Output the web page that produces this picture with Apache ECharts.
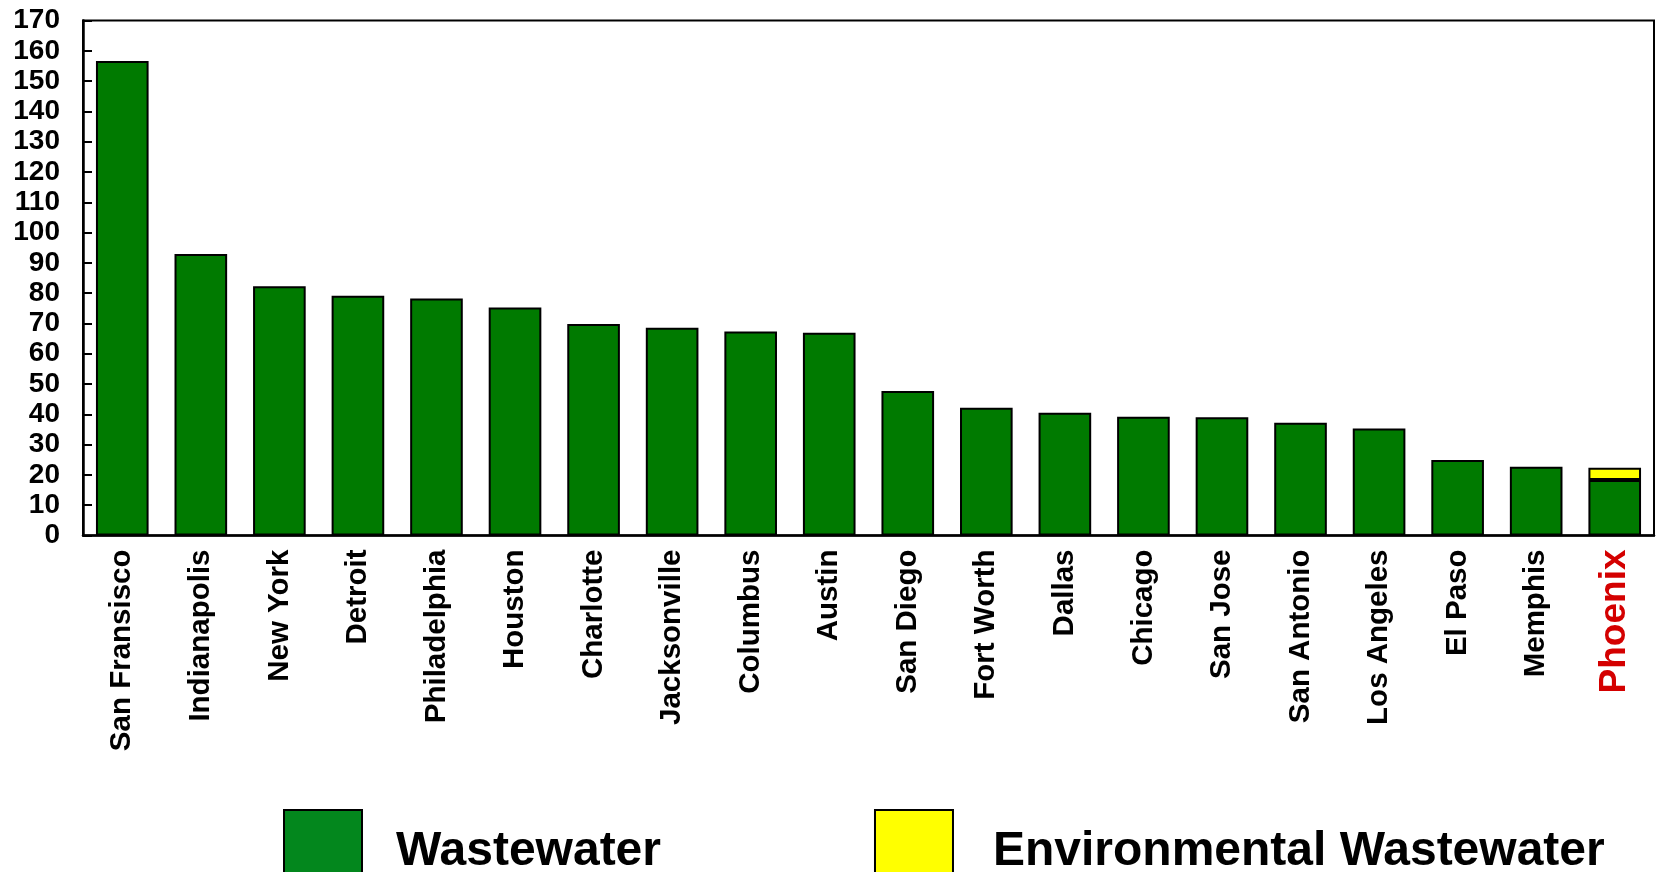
<!DOCTYPE html>
<html>
<head>
<meta charset="utf-8">
<script src="https://cdn.jsdelivr.net/npm/echarts@6/dist/echarts.min.js"></script>
<style>
html,body{margin:0;padding:0;background:#fff;}
#c{width:1659px;height:872px;}
</style>
</head>
<body>
<div id="c"></div>
<script>
const categories = ['San Fransisco','Indianapolis','New York','Detroit','Philadelphia','Houston','Charlotte','Jacksonville','Columbus','Austin','San Diego','Fort Worth','Dallas','Chicago','San Jose','San Antonio','Los Angeles','El Paso','Memphis','Phoenix'];
const wastewater = [156.6,92.9,82.3,79.1,78.2,75.3,69.8,68.6,67.3,66.9,47.7,42.2,40.5,39.2,39.0,37.2,35.3,24.9,22.7,18.3];
const environmental = ['-','-','-','-','-','-','-','-','-','-','-','-','-','-','-','-','-','-','-',4.1];
const seriesNames = ['Wastewater','Environmental Wastewater'];
const highlightCategory = 'Phoenix';

const chart = echarts.init(document.getElementById('c'));
const font = 'Liberation Sans, Arial, sans-serif';
chart.setOption({
  animation: false,
  grid: {left: 83, right: 5, top: 20.5, bottom: 336.5, show: true, borderColor: '#000', borderWidth: 2, backgroundColor: 'transparent'},
  legend: {
    left: 278, top: 804,
    itemWidth: 78, itemHeight: 84, itemGap: 213,
    icon: 'rect',
    data: [
      {name: seriesNames[0], itemStyle: {color: '#03871d', borderColor: '#000', borderWidth: 2}},
      {name: seriesNames[1], itemStyle: {color: '#ffff00', borderColor: '#000', borderWidth: 2},
       textStyle: {padding: [0,0,0,35]}}
    ],
    textStyle: {fontFamily: font, fontWeight: 'bold', fontSize: 48, color: '#000', padding: [0,0,0,29]}
  },
  xAxis: {
    type: 'category',
    data: categories,
    axisLine: {lineStyle: {color: '#000', width: 2.5}},
    axisTick: {inside: true, length: 9, lineStyle: {color: '#000', width: 2}},
    axisLabel: {
      rotate: 90, margin: 14, interval: 0,
      fontFamily: font, fontWeight: 'bold', fontSize: 29.5, color: '#000',
      formatter: v => v === highlightCategory ? '{p|' + v + '}' : v,
      rich: {p: {fontFamily: font, fontWeight: 'bold', fontSize: 37, color: '#d40000'}}
    }
  },
  yAxis: {
    type: 'value', min: 0, max: 170, interval: 10,
    splitLine: {show: false},
    axisLine: {show: true, lineStyle: {color: '#000', width: 2.5}},
    axisTick: {show: true, inside: true, length: 9, lineStyle: {color: '#000', width: 2}},
    axisLabel: {margin: 23, fontFamily: font, fontWeight: 'bold', fontSize: 28, color: '#000'}
  },
  series: [
    {name: seriesNames[0], type: 'bar', stack: 'a', data: wastewater, barCategoryGap: '33%',
     itemStyle: {color: '#007a00', borderColor: '#000', borderWidth: 2}},
    {name: seriesNames[1], type: 'bar', stack: 'a', data: environmental,
     itemStyle: {color: '#ffff00', borderColor: '#000', borderWidth: 2}}
  ]
});
</script>
</body>
</html>
